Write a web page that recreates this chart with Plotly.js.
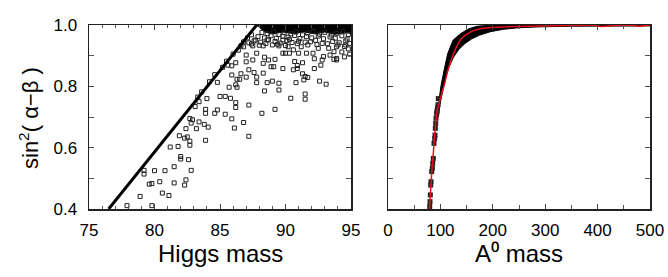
<!DOCTYPE html>
<html>
<head>
<meta charset="utf-8">
<script src="https://cdn.plot.ly/plotly-3.0.1.min.js"></script>
<style>html,body{margin:0;padding:0;background:#fff;}#chart{width:668px;height:277px;}</style>
</head>
<body>
<div id="chart"></div>
<script>
// ---- Left panel: scattered model points (Higgs mass, sin^2(alpha-beta)) ----
const higgsMass = [
  77.9,79.8,78.9,80.6,81.1,79.6,79.8,80.4,81.5,82.3,
  82.4,79.2,79.2,80.0,80.8,81.5,82.8,82.6,82.0,82.0,
  81.2,81.8,82.7,82.7,81.9,82.3,82.5,83.9,82.4,83.2,
  83.8,84.1,82.7,82.9,82.8,83.4,85.4,85.9,86.8,86.1,
  87.2,84.6,84.8,83.9,83.9,83.1,83.4,84.0,85.0,85.4,
  85.8,86.2,86.2,87.2,88.2,89.2,90.4,91.5,91.5,88.4,
  89.5,84.8,85.7,86.2,86.3,86.3,86.5,87.0,87.8,87.8,
  88.6,89.0,89.5,90.8,91.4,91.7,92.6,93.1,85.9,86.6,
  87.2,87.6,88.3,88.9,89.1,89.8,90.6,90.9,91.3,91.5,
  92.2,92.7,93.7,93.9,92.8,92.2,91.3,90.7,90.9,87.5,
  88.3,88.7,89.2,87.0,86.2,85.9,85.6,87.0,87.8,88.4,
  89.8,90.0,90.3,91.0,91.6,92.1,93.4,93.9,92.9,87.5,
  88.3,89.0,89.5,90.2,90.6,91.2,91.7,92.5,93.3,93.7,
  93.9,86.8,87.2,87.7,88.6,89.8,90.3,86.0,86.4,85.5,
  85.2,84.6,84.2,83.6,83.3,86.8,87.1,87.4,86.6,94.8,
  94.9,94.6,94.3,94.5,88.2,88.6,89.1,89.5,89.9,90.4,
  90.8,91.3,91.7,92.1,92.6,93.0,93.5,93.9,94.4,94.8,
  87.9,88.4,88.9,89.3,89.8,90.2,90.7,91.1,91.6,92.0,
  92.5,92.9,93.4,93.8,94.3,94.7,87.6,88.1,88.7,89.2,
  89.6,90.1,90.5,91.0,91.9,92.3,92.8,93.6,94.1,94.6,
  87.4,88.0,88.5,89.4,90.0,90.9,91.5,92.4,93.2,94.0,
  94.5,94.9
];
const sinSqLeft = [
  0.411,0.411,0.441,0.452,0.444,0.481,0.483,0.489,0.485,0.478,
  0.495,0.514,0.526,0.525,0.525,0.538,0.526,0.561,0.571,0.563,
  0.602,0.604,0.608,0.621,0.639,0.631,0.635,0.624,0.662,0.662,
  0.676,0.667,0.695,0.691,0.680,0.684,0.709,0.694,0.682,0.664,
  0.637,0.712,0.723,0.712,0.725,0.734,0.750,0.760,0.767,0.767,
  0.761,0.747,0.731,0.739,0.712,0.725,0.761,0.775,0.758,0.785,
  0.788,0.813,0.797,0.805,0.797,0.823,0.823,0.830,0.830,0.812,
  0.812,0.817,0.810,0.812,0.821,0.829,0.817,0.807,0.837,0.841,
  0.854,0.845,0.843,0.864,0.864,0.858,0.854,0.858,0.841,0.832,
  0.858,0.869,0.888,0.886,0.886,0.890,0.877,0.881,0.868,0.886,
  0.875,0.886,0.888,0.880,0.877,0.867,0.869,0.902,0.908,0.895,
  0.908,0.908,0.908,0.908,0.908,0.908,0.902,0.891,0.897,0.932,
  0.932,0.935,0.932,0.929,0.919,0.929,0.935,0.924,0.924,0.913,
  0.929,0.929,0.942,0.951,0.951,0.951,0.953,0.905,0.918,0.882,
  0.862,0.838,0.815,0.782,0.765,0.945,0.958,0.968,0.932,0.922,
  0.905,0.935,0.912,0.896,0.976,0.972,0.978,0.969,0.975,0.971,
  0.977,0.968,0.974,0.979,0.970,0.976,0.967,0.973,0.978,0.969,
  0.962,0.958,0.965,0.957,0.963,0.960,0.966,0.956,0.962,0.958,
  0.964,0.955,0.961,0.957,0.965,0.954,0.948,0.944,0.952,0.946,
  0.941,0.949,0.943,0.947,0.945,0.950,0.940,0.946,0.942,0.948,
  0.938,0.934,0.940,0.937,0.933,0.939,0.944,0.936,0.939,0.935,
  0.930,0.940
];
// densely packed (solid) region near sin^2 = 1
const denseTopX = [87.8, 95.0, 95.0, 94.5, 93.8, 93.0, 92.2, 91.4, 90.6, 89.8, 89.0, 88.4, 87.8];
const denseTopY = [1.0, 1.0, 0.972, 0.976, 0.970, 0.977, 0.971, 0.978, 0.972, 0.977, 0.971, 0.978, 1.0];
// the sharp upper-left boundary of the point cloud
const edgeX = [76.5, 83.2, 87.8];
const edgeY = [0.40, 0.755, 1.0];

// ---- Right panel: A0 mass ----
const aBlobX = [92.9,91.6,91.0,90.3,89.7,89.1,87.8,86.5,85.3,84.6,83.4,82.1,81.5,80.8,80.2,79.6,93.5,94.5,95.5,96.0];
const aBlobY = [0.712,0.696,0.679,0.663,0.641,0.630,0.614,0.565,0.549,0.533,0.522,0.489,0.478,0.446,0.424,0.408,0.72,0.73,0.74,0.76];
const bandX = [93, 96, 101, 107, 114, 124, 137, 153, 170, 200, 500,
               500, 420, 350, 290, 250, 220, 195, 175, 160, 147, 135, 125, 117, 110, 104, 99, 96];
const bandY = [0.70, 0.745, 0.80, 0.853, 0.907, 0.95, 0.97, 0.987, 0.996, 1.0, 1.0,
               0.997, 0.997, 0.996, 0.994, 0.991, 0.986, 0.978, 0.967, 0.955, 0.94, 0.92, 0.895, 0.865, 0.83, 0.785, 0.74, 0.70];
const redX = [79, 81, 83.5, 86, 88, 90, 92, 95, 99, 104, 109, 114, 119, 128, 140, 156, 172, 200, 240, 290, 340, 390, 410, 430, 460, 480, 495, 500];
const redY = [0.40, 0.45, 0.52, 0.57, 0.62, 0.66, 0.70, 0.73, 0.755, 0.785, 0.815, 0.85, 0.878, 0.918, 0.955, 0.976, 0.986, 0.992, 0.995, 0.997, 0.998, 0.999, 0.995, 0.998, 0.999, 0.996, 0.999, 1.0];

const xTitleLeft = 'Higgs mass';
const xTitleRight = 'A⁰ mass';
const yTitle = 'sin<sup>2</sup>( α−β )';

const FONT = 'Liberation Sans, Arial, Helvetica, sans-serif';
const W = 668, H = 277;

const traces = [
  {x: denseTopX, y: denseTopY, xaxis:'x', yaxis:'y', type:'scatter', mode:'lines', fill:'toself',
   fillcolor:'#000', line:{color:'#000', width:1}, hoverinfo:'skip'},
  {x: higgsMass, y: sinSqLeft, xaxis:'x', yaxis:'y', type:'scatter', mode:'markers',
   marker:{symbol:'square-open', size:4, color:'#222', line:{width:1, color:'#222'}}},
  {x: edgeX, y: edgeY, xaxis:'x', yaxis:'y', type:'scatter', mode:'lines',
   line:{color:'#000', width:3}},
  {x: bandX, y: bandY, xaxis:'x2', yaxis:'y2', type:'scatter', mode:'lines', fill:'toself',
   fillcolor:'#000', line:{color:'#000', width:1}},
  {x: aBlobX, y: aBlobY, xaxis:'x2', yaxis:'y2', type:'scatter', mode:'markers',
   marker:{symbol:'square', size:5, color:'#222'}},
  {x: redX, y: redY, xaxis:'x2', yaxis:'y2', type:'scatter', mode:'lines',
   line:{color:'#e8101a', width:1.5, shape:'spline'}}
];

const axBase = {
  showgrid:false, zeroline:false, showline:true, linecolor:'#222', linewidth:1.5,
  mirror:'ticks', ticks:'inside', ticklen:5, tickwidth:1, tickcolor:'#444',
  tickfont:{family:FONT, size:17, color:'#000'}
};
const yDom = [(H-209)/H, (H-25)/H];

const layout = {
  width:W, height:H, margin:{l:0, r:0, t:0, b:0},
  paper_bgcolor:'#fff', plot_bgcolor:'#fff', showlegend:false,
  xaxis: Object.assign({}, axBase, {domain:[89/W, 351/W], range:[75,95], tick0:75, dtick:5, anchor:'y',
    ticklabelstandoff:5, minor:{dtick:1, ticks:'inside', ticklen:3, tickcolor:'#555'}}),
  yaxis: Object.assign({}, axBase, {domain:yDom, range:[0.4,1.0], tick0:0.4, dtick:0.2, tickformat:'.1f', anchor:'x',
    ticklabelstandoff:7, minor:{dtick:0.1, ticks:'inside', ticklen:5, tickcolor:'#555'}}),
  xaxis2: Object.assign({}, axBase, {domain:[388/W, 650/W], range:[0,500], tick0:0, dtick:100, anchor:'y2',
    ticklabelstandoff:5, minor:{dtick:50, ticks:'inside', ticklen:4, tickcolor:'#555'}}),
  yaxis2: Object.assign({}, axBase, {domain:yDom, range:[0.4,1.0], tick0:0.4, dtick:0.2, anchor:'x2',
    showticklabels:false, minor:{dtick:0.1, ticks:'inside', ticklen:5, tickcolor:'#555'}}),
  annotations: [
    {text:xTitleLeft, xref:'paper', yref:'paper', x:220/W, y:1-253/H, xanchor:'center', yanchor:'middle',
     showarrow:false, font:{family:FONT, size:24, color:'#000'}},
    {text:xTitleRight, xref:'paper', yref:'paper', x:519/W, y:1-253/H, xanchor:'center', yanchor:'middle',
     showarrow:false, font:{family:FONT, size:24, color:'#000'}},
    {text:yTitle, xref:'paper', yref:'paper', x:29/W, y:1-118/H, xanchor:'center', yanchor:'middle',
     textangle:-90, showarrow:false, font:{family:FONT, size:22, color:'#000'}}
  ]
};

Plotly.newPlot('chart', traces, layout, {staticPlot:true, displayModeBar:false});
</script>
</body>
</html>
